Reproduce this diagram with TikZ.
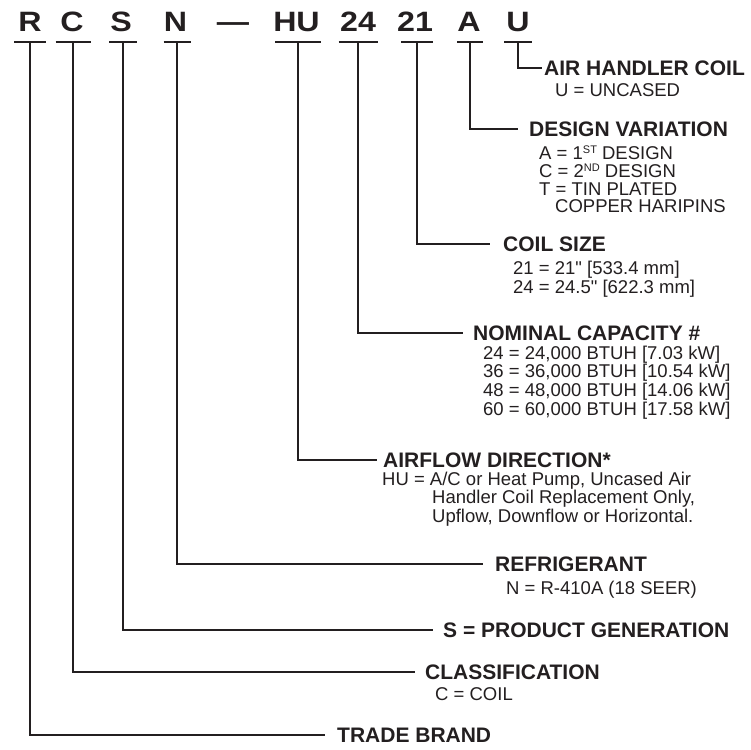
\documentclass[tikz,border=0pt]{standalone}
\usepackage{fontspec}
\setmainfont{Liberation Sans}
\newfontfamily\hdrfont[FakeStretch=1.15]{Liberation Sans}
\newfontfamily\subfont{Liberation Sans}
\definecolor{ink}{RGB}{35,31,32}
\begin{document}
\begin{tikzpicture}[x=1pt,y=-1pt,
  code/.style={font=\hdrfont\bfseries\fontsize{28}{28}\selectfont, anchor=base, inner sep=0pt, text=ink},
  hd/.style={font=\bfseries\fontsize{21}{21}\selectfont, anchor=west, inner sep=0pt, text=ink},
  sub/.style={font=\subfont\fontsize{18.5}{18.5}\selectfont, anchor=base west, inner sep=0pt, text=ink},
  lead/.style={draw=ink, line width=1.5pt},
  uline/.style={draw=ink, line width=1.2pt}]
\useasboundingbox (0,0) rectangle (751,749);
% code letters
\node[code] (cR)  at (30,32)  {R};
\node[code] (cC)  at (72,32)  {C};
\node[code] (cS)  at (121,32) {S};
\node[code] (cN)  at (175.5,32) {N};
\node[code] (dash) at (233,32) {—};
\node[code] (cHU) at (296.5,32) {HU};
\node[code] (c24) at (358,32) {24};
\node[code] (c21) at (415,32) {21};
\node[code] (cA)  at (469,32) {A};
\node[code] (cU)  at (518,32) {U};
% underline anchors
\coordinate (uR)  at (30,42);
\coordinate (uC)  at (73,42);
\coordinate (uS)  at (123,42);
\coordinate (uN)  at (177,42);
\coordinate (uHU) at (298,42);
\coordinate (u24) at (358,42);
\coordinate (u21) at (417,42);
\coordinate (uA)  at (470,42);
\coordinate (uU)  at (518,42);
\draw[uline] ([xshift=-16]uR) -- ([xshift=16]uR);
\draw[uline] ([xshift=-17.5]uC) -- ([xshift=17.5]uC);
\draw[uline] ([xshift=-14]uS) -- ([xshift=14]uS);
\draw[uline] ([xshift=-13.5]uN) -- ([xshift=13.5]uN);
\draw[uline] ([xshift=-23]uHU) -- ([xshift=23]uHU);
\draw[uline] ([xshift=-19.5]u24) -- ([xshift=19.5]u24);
\draw[uline] ([xshift=-16]u21) -- ([xshift=16]u21);
\draw[uline] ([xshift=-13]uA) -- ([xshift=13]uA);
\draw[uline] ([xshift=-14]uU) -- ([xshift=14]uU);
% headings
\node[hd] (hAIR)  at (544,68)  {AIR HANDLER COIL};
\node[hd] (hDES)  at (529,129) {DESIGN VARIATION};
\node[hd] (hCOIL) at (503,244) {COIL SIZE};
\node[hd] (hNOM)  at (473,333) {NOMINAL CAPACITY \#};
\node[hd] (hAIRF) at (383,460) {AIRFLOW DIRECTION*};
\node[hd] (hREF)  at (495,564) {REFRIGERANT};
\node[hd] (hSPG)  at (443,630) {S = PRODUCT GENERATION};
\node[hd] (hCLS)  at (425,672) {CLASSIFICATION};
\node[hd] (hTB)   at (337,735) {TRADE BRAND};
% leaders
\draw[lead] (uU)  |- ([xshift=-2]hAIR.west);
\draw[lead] (uA)  |- ([xshift=-11]hDES.west);
\draw[lead] (u21) |- ([xshift=-13]hCOIL.west);
\draw[lead] (u24) |- ([xshift=-10]hNOM.west);
\draw[lead] (uHU) |- ([xshift=-6]hAIRF.west);
\draw[lead] (uN)  |- ([xshift=-12]hREF.west);
\draw[lead] (uS)  |- ([xshift=-10]hSPG.west);
\draw[lead] (uC)  |- ([xshift=-10]hCLS.west);
\draw[lead] (uR)  |- ([xshift=-12]hTB.west);
% descriptions
\node[sub] (tU1) at (555,97)  {U = UNCASED};
\node[sub] (tA1) at (539,159) {A = 1\raisebox{5.5pt}{\fontsize{11}{11}\selectfont ST} DESIGN};
\node[sub] (tA2) at (539,177) {C = 2\raisebox{5.5pt}{\fontsize{11}{11}\selectfont ND} DESIGN};
\node[sub] (tA3) at (539,195) {T = TIN PLATED};
\node[sub] (tA4) at (555,212) {COPPER HARIPINS};
\node[sub] (t211) at (513,274) {21 = 21" [533.4 mm]};
\node[sub] (t212) at (513,293) {24 = 24.5" [622.3 mm]};
\node[sub] (t241) at (483,359) {24 = 24,000 BTUH [7.03 kW]};
\node[sub] (t242) at (483,377) {36 = 36,000 BTUH [10.54 kW]};
\node[sub] (t243) at (483,396) {48 = 48,000 BTUH [14.06 kW]};
\node[sub] (t244) at (483,415) {60 = 60,000 BTUH [17.58 kW]};
\node[sub] (tHU1) at (382,485) {HU = A/C or Heat Pump, Uncased Air};
\node[sub] (tHU2) at (432,503) {Handler Coil Replacement Only,};
\node[sub] (tHU3) at (432,522) {Upflow, Downflow or Horizontal.};
\node[sub] (tN1) at (506,594) {N = R-410A (18 SEER)};
\node[sub] (tC1) at (435,700) {C = COIL};
\end{tikzpicture}
\end{document}
